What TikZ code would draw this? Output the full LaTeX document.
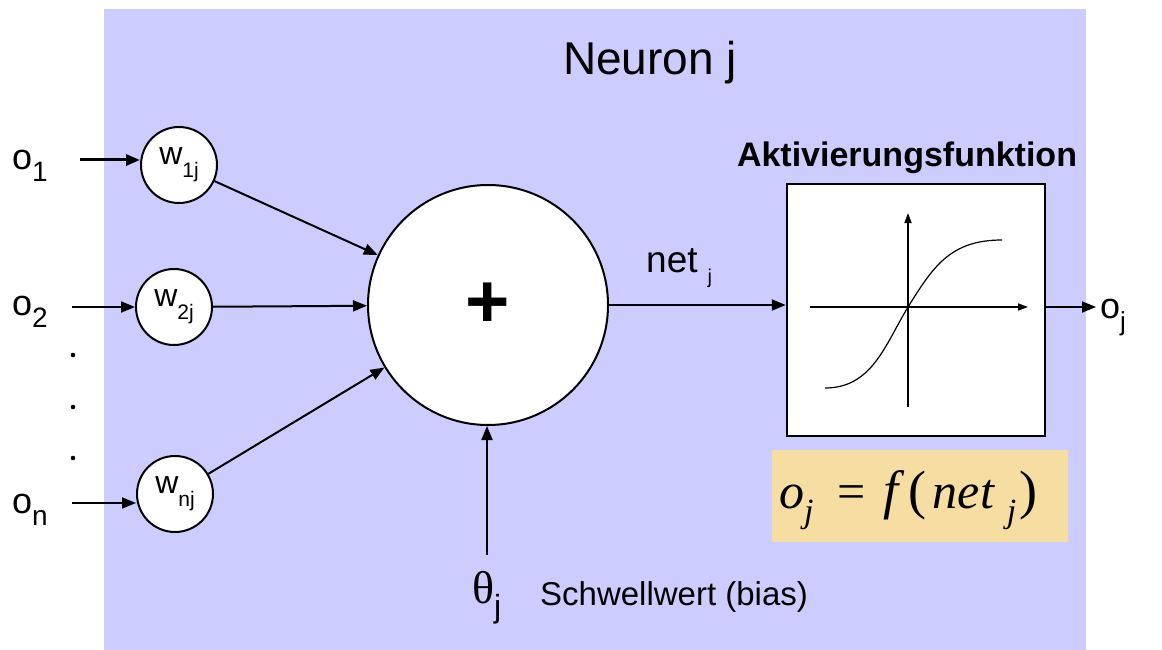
\documentclass[tikz,border=0pt]{standalone}
\usepackage{fontspec}
\setmainfont{Liberation Sans}
\newfontfamily\tms{Liberation Serif}
\usetikzlibrary{arrows.meta}
\definecolor{bgpurple}{HTML}{CCCCFF}
\definecolor{tanbox}{HTML}{F6DDA2}
\newcommand\fs[1]{\fontsize{#1}{#1}\selectfont}
\newcommand\lowsub[3]{\raisebox{-#2pt}{\fs{#1}#3}}
\begin{document}
\begin{tikzpicture}[x=1pt,y=-1pt,
  wcirc/.style={circle,draw,fill=white,line width=2pt,minimum size=76pt,inner sep=0pt},
  conn/.style={line width=2pt,-{Triangle[length=14pt,width=11pt]}},
  axisarrow/.style={line width=1.6pt,-{Triangle[length=10pt,width=7pt]}},
  lbl/.style={inner sep=0pt,text=black}]
\useasboundingbox (0,0) rectangle (1162,650);
\fill[bgpurple] (104,9) rectangle (1086,650);

% title
\node[lbl,anchor=base] (title) at (650,75) {\fs{46}Neuron j};

% inputs
\node[lbl,anchor=base west] (o1) at (12,170) {\fs{36}o\lowsub{28}{12}{1}};
\node[lbl,anchor=base west] (o2) at (12,315) {\fs{36}o\lowsub{28}{12}{2}};
\node[lbl,anchor=base west] (on) at (12,513) {\fs{36}o\lowsub{28}{12}{n}};
\coordinate (in1) at (80,160);
\coordinate (in2) at (72,307);
\coordinate (inn) at (72,503);
\fill (73,355) circle (2.3);
\fill (73,407) circle (2.3);
\fill (73,458) circle (2.3);

% weights
\node[wcirc] (w1) at (179,165) {\fs{32}w\lowsub{21}{13}{1j}};
\node[wcirc] (w2) at (174,307) {\fs{32}w\lowsub{21}{13}{2j}};
\node[wcirc] (wn) at (175,494) {\fs{32}w\lowsub{21}{13}{nj}};
\draw[conn,line width=3pt] (in1) -- (in1 -| w1.west);
\draw[conn] (in2) -- (in2 -| w2.west);
\draw[conn] (inn) -- (inn -| wn.west);

% summation
\node[circle,draw,fill=white,line width=2pt,minimum size=240pt,inner sep=0pt] (sum) at (488,305) {\fs{76}\bfseries +};
\draw[conn] (w1) -- (sum);
\draw[conn] (w2) -- (sum);
\draw[conn] (wn) -- (sum);

% bias
\coordinate (bstart) at (487,555);
\draw[conn] (bstart) -- (bstart |- sum.south);
\node[lbl,anchor=base west] (theta) at (472,603) {{\tms\fs{46}θ}\lowsub{32}{14}{j}};
\node[lbl,anchor=base west] (bias) at (540,605) {\fs{33}Schwellwert (bias)};

% net
\node[lbl,anchor=base west] (net) at (646,272) {\fs{37}net\hspace{10pt}\lowsub{20}{11}{j}};

% activation
\node[lbl,anchor=base] (akt) at (907,167) {\fs{34}\bfseries Aktivierungsfunktion};
\node[draw,fill=white,line width=2.5pt,minimum width=258pt,minimum height=252pt,inner sep=0pt] (act) at (916,310) {};
\draw[conn] (sum.east) -- (sum.east -| act.west);
\coordinate (xa0) at (810,307);
\coordinate (xa1) at (1028,307);
\coordinate (ya0) at (908,407);
\coordinate (ya1) at (908,213);
\draw[axisarrow] (xa0) -- (xa1);
\draw[axisarrow] (ya0) -- (ya1);
\draw[line width=1.2pt] (825,388) .. controls (872,388) and (885,345) .. (908,307)
  .. controls (933,267) and (950,240) .. (1002,240);

% output
\coordinate (outend) at (1096,307);
\draw[conn] (act.east |- outend) -- (outend);
\node[lbl,anchor=base west] (oj) at (1100,318) {\fs{36}o\lowsub{26}{12}{j}};

% formula
\node[fill=tanbox,minimum width=296pt,minimum height=92pt,inner sep=0pt] (fbox) at (920,496) {};
\node[lbl,anchor=base west] (formula) at (779,508) {\tms\fs{50}\itshape o\lowsub{34}{14}{j}\hspace{24pt}{\upshape =}\hspace{18pt}{\fs{54}f}\hspace{10pt}{\upshape\fs{54}(}\hspace{6pt}net\hspace{13pt}\lowsub{34}{14}{j}\hspace{3pt}{\upshape\fs{54})}};
\end{tikzpicture}
\end{document}
